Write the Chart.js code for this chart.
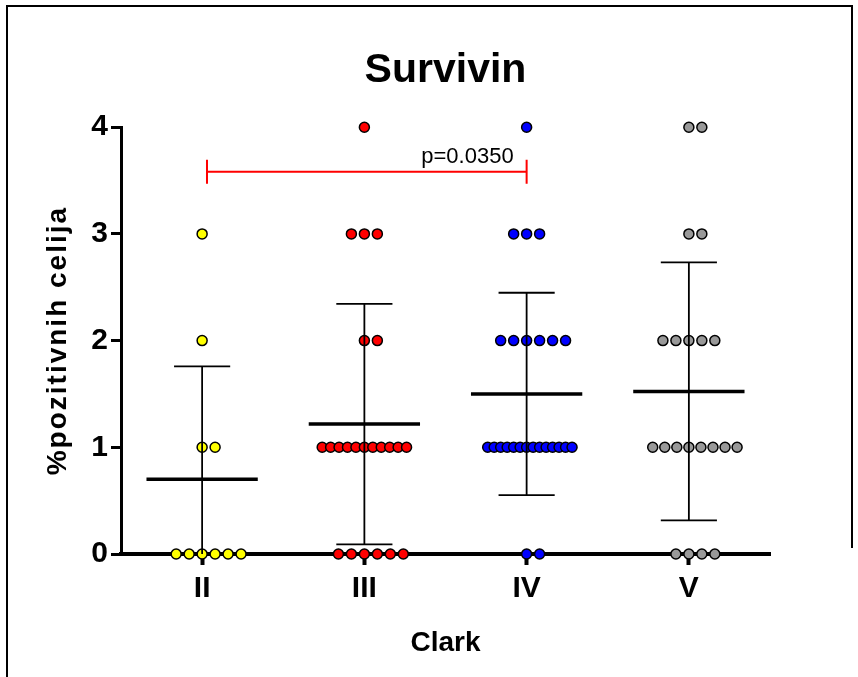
<!DOCTYPE html>
<html>
<head>
<meta charset="utf-8">
<title>Survivin</title>
<script src="https://cdn.jsdelivr.net/npm/chart.js@4.4.1/dist/chart.umd.min.js"></script>
<style>
  html, body { margin: 0; padding: 0; background: #fff; }
  canvas { display: block; }
</style>
</head>
<body>
<canvas id="survivinChart" width="858" height="677"></canvas>
<script>
// Clark levels and the % of positive cells in each case
const groups = ["II", "III", "IV", "V"];
const stageII = [3, 2, 1, 1, 0, 0, 0, 0, 0, 0];
const stageIII = [4, 3, 3, 3, 2, 2, 1, 1, 1, 1, 1, 1, 1, 1, 1, 1, 1, 0, 0, 0, 0, 0, 0];
const stageIV = [4, 3, 3, 3, 2, 2, 2, 2, 2, 2, 1, 1, 1, 1, 1, 1, 1, 1, 1, 1, 1, 1, 1, 1, 0, 0];
const stageV = [4, 4, 3, 3, 2, 2, 2, 2, 2, 1, 1, 1, 1, 1, 1, 1, 1, 0, 0, 0, 0];
const yTicks = [0, 1, 2, 3, 4];
const groupColors = ["#ffff00", "#ff0000", "#0000ff", "#999999"];

// significance bracket between II and IV
const pLabel = "p=0.0350";
const pPair = [0, 2];
const pLevel = 3.583;

const FONT = "'Liberation Sans', Arial, Helvetica, sans-serif";
const series = [stageII, stageIII, stageIV, stageV];

// spread equal values sideways like a dot plot
function spread(values, center) {
  const byLevel = {};
  values.forEach(v => { (byLevel[v] = byLevel[v] || []).push(v); });
  const pts = [];
  Object.keys(byLevel).forEach(k => {
    const n = byLevel[k].length;
    const step = n > 1 ? Math.min(0.08, 0.52 / (n - 1)) : 0;
    const shift = Math.floor((n - 1) / 2);
    byLevel[k].forEach((v, i) => pts.push({ x: center + (i - shift) * step, y: v }));
  });
  return pts;
}

function mean(a) { return a.reduce((s, v) => s + v, 0) / a.length; }
function sd(a) {
  const m = mean(a);
  return Math.sqrt(a.reduce((s, v) => s + (v - m) * (v - m), 0) / (a.length - 1));
}

function seg(points, width, color) {
  return {
    type: "line", data: points, borderColor: color || "#000", borderWidth: width,
    pointRadius: 0, fill: false, tension: 0, order: 1, clip: false
  };
}

const datasets = [];
series.forEach((vals, i) => {
  const c = i + 1;
  const m = mean(vals), s = sd(vals);
  const hi = m + s, lo = Math.max(0, m - s);
  datasets.push(seg([{ x: c - 0.343, y: m }, { x: c + 0.343, y: m }], 3.5));
  datasets.push(seg([{ x: c, y: lo }, { x: c, y: hi }], 1.8));
  datasets.push(seg([{ x: c - 0.173, y: hi }, { x: c + 0.173, y: hi }], 1.8));
  if (m - s > 0) datasets.push(seg([{ x: c - 0.173, y: lo }, { x: c + 0.173, y: lo }], 1.8));
  datasets.push({
    type: "scatter", label: groups[i], data: spread(vals, c),
    backgroundColor: groupColors[i], borderColor: "#000", borderWidth: 1.5,
    pointRadius: 5, pointHoverRadius: 5, order: 2, clip: false
  });
});

// red bracket with end caps
const bx1 = pPair[0] + 1 + 0.03, bx2 = pPair[1] + 1;
datasets.push(seg([
  { x: bx1, y: pLevel + 0.112 }, { x: bx1, y: pLevel - 0.112 }, { x: bx1, y: pLevel },
  { x: bx2, y: pLevel }, { x: bx2, y: pLevel + 0.112 }, { x: bx2, y: pLevel - 0.112 }
], 2, "#ff0000"));

// frame, axis titles and p value text
const decorations = {
  id: "decorations",
  beforeDraw(chart) {
    const ctx = chart.ctx;
    ctx.save();
    ctx.fillStyle = "#fff";
    ctx.fillRect(0, 0, chart.width, chart.height);
    ctx.strokeStyle = "#000";
    ctx.lineWidth = 2;
    ctx.beginPath();
    ctx.moveTo(7, 677);
    ctx.lineTo(7, 6);
    ctx.lineTo(852, 6);
    ctx.lineTo(852, 548);
    ctx.stroke();
    ctx.restore();
  },
  afterDraw(chart) {
    const ctx = chart.ctx;
    const { left, right, top, bottom } = chart.chartArea;
    const xs = chart.scales.x, ys = chart.scales.y;
    ctx.save();
    ctx.fillStyle = "#000";
    ctx.font = "bold 28px " + FONT;
    ctx.textAlign = "center";
    ctx.textBaseline = "alphabetic";
    ctx.fillText("Clark", (left + right) / 2, 651);

    ctx.translate(66, (top + bottom) / 2);
    ctx.rotate(-Math.PI / 2);
    ctx.letterSpacing = "2px";
    ctx.fillText("%pozitivnih celija", 0, 0);
    ctx.restore();

    ctx.save();
    ctx.fillStyle = "#000";
    ctx.font = "22px " + FONT;
    ctx.textAlign = "right";
    ctx.textBaseline = "alphabetic";
    ctx.fillText(pLabel, xs.getPixelForValue(bx2) - 13, ys.getPixelForValue(pLevel) - 9);
    ctx.restore();
  }
};

new Chart(document.getElementById("survivinChart"), {
  data: { datasets },
  options: {
    responsive: false,
    animation: false,
    layout: { padding: { left: 0, right: 88, top: 0, bottom: 0 } },
    plugins: {
      legend: { display: false },
      tooltip: { enabled: false },
      title: {
        display: true,
        fullSize: false,
        text: "Survivin",
        color: "#000",
        font: { family: FONT, size: 41, weight: "bold" },
        padding: { top: 46, bottom: 32 }
      }
    },
    scales: {
      x: {
        type: "linear",
        min: 0.5,
        max: 4.5,
        afterBuildTicks: s => { s.ticks = groups.map((g, i) => ({ value: i + 1 })); },
        afterFit: s => { s.height = 123; },
        ticks: {
          color: "#000",
          padding: 6,
          font: { family: FONT, size: 30, weight: "bold" },
          callback: v => groups[v - 1]
        },
        grid: { drawOnChartArea: false, drawTicks: true, tickLength: 11, tickWidth: 4, tickColor: "#000" },
        border: { display: true, color: "#000", width: 4 }
      },
      y: {
        min: 0,
        max: 4,
        afterBuildTicks: s => { s.ticks = yTicks.map(v => ({ value: v })); },
        afterFit: s => { s.width = 121; },
        ticks: {
          color: "#000",
          padding: 3,
          font: { family: FONT, size: 30, weight: "bold" }
        },
        grid: { drawOnChartArea: false, drawTicks: true, tickLength: 10, tickWidth: 3, tickColor: "#000" },
        border: { display: true, color: "#000", width: 3 }
      }
    }
  },
  plugins: [decorations]
});
</script>
</body>
</html>
